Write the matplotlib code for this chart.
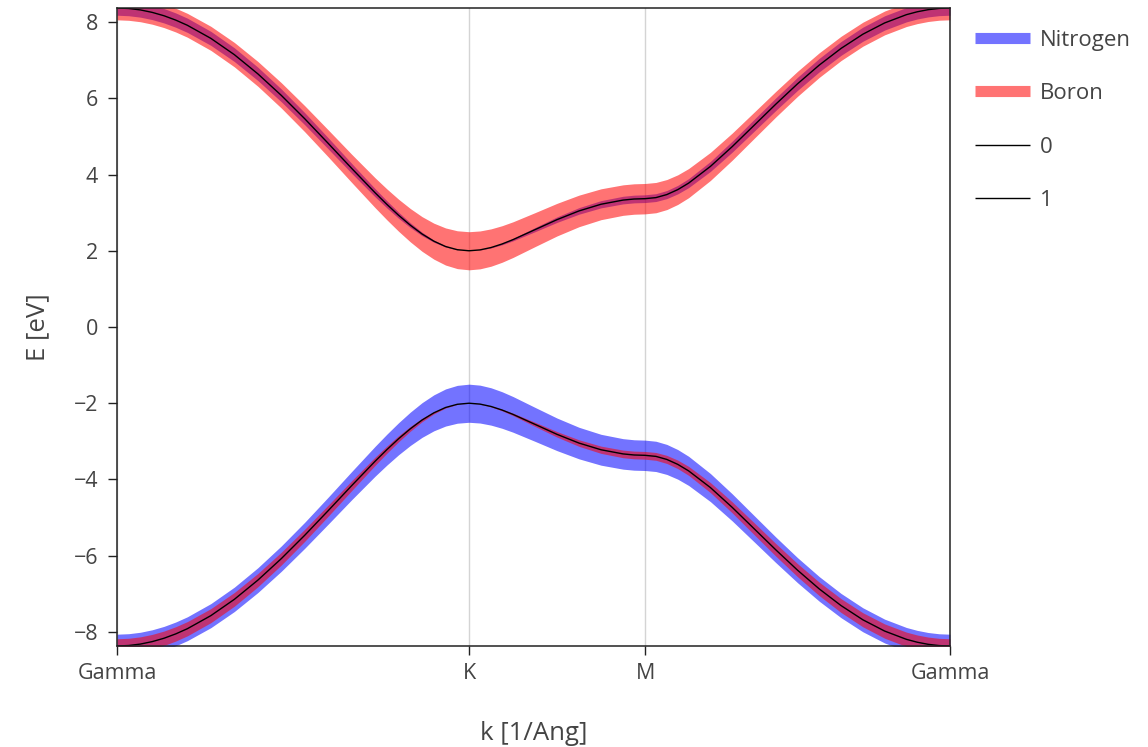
import numpy as np
import matplotlib.pyplot as plt
from matplotlib.lines import Line2D

plt.rcParams['font.family'] = ['Open Sans', 'DejaVu Sans']

# k path (1/Ang) and high-symmetry points
k_path = [0.0, 0.0559, 0.1117, 0.1676, 0.2234, 0.2793, 0.3351, 0.4468, 0.5585, 0.6702,
          0.7819, 0.8936, 1.0053, 1.1170, 1.2287, 1.2846, 1.3404, 1.3963, 1.4521, 1.5080,
          1.5638, 1.6197, 1.6755,
          1.7279, 1.7802, 1.8326, 1.8850, 1.9897, 2.0944, 2.1991, 2.3038, 2.4086, 2.4609,
          2.5133,
          2.5651, 2.6169, 2.6688, 2.7206, 2.8242, 2.9279, 3.0315, 3.1352, 3.2388, 3.3425,
          3.4462, 3.5498, 3.6535, 3.7571, 3.8089, 3.8608, 3.9125, 3.9644]
tick_pos = [0.0, 1.6755, 2.5133, 3.9644]
tick_labels = ['Gamma', 'K', 'M', 'Gamma']

# band energies (eV): band 0 = valence, band 1 = conduction
band_1 = [8.370, 8.357, 8.319, 8.255, 8.167, 8.053, 7.916, 7.573, 7.146, 6.643,
          6.078, 5.464, 4.818, 4.162, 3.521, 3.217, 2.931, 2.670, 2.440, 2.252,
          2.112, 2.028, 2.000,
          2.023, 2.085, 2.178, 2.293, 2.555, 2.817, 3.046, 3.221, 3.330, 3.358,
          3.367,
          3.395, 3.475, 3.604, 3.775, 4.213, 4.732, 5.288, 5.845, 6.380, 6.873,
          7.310, 7.682, 7.978, 8.195, 8.271, 8.326, 8.359, 8.370]
band_0 = [-8.370, -8.357, -8.319, -8.255, -8.167, -8.053, -7.916, -7.573, -7.146, -6.643,
          -6.078, -5.464, -4.818, -4.162, -3.521, -3.217, -2.931, -2.670, -2.440, -2.252,
          -2.112, -2.028, -2.000,
          -2.023, -2.085, -2.178, -2.293, -2.555, -2.817, -3.046, -3.221, -3.330, -3.358,
          -3.367,
          -3.395, -3.475, -3.604, -3.775, -4.213, -4.732, -5.288, -5.845, -6.380, -6.873,
          -7.310, -7.682, -7.978, -8.195, -8.271, -8.326, -8.359, -8.370]

# orbital weights (Nitrogen on valence band, Boron on conduction band)
nitrogen_0 = [0.620, 0.620, 0.620, 0.621, 0.622, 0.624, 0.626, 0.632, 0.640, 0.651,
              0.665, 0.683, 0.708, 0.740, 0.784, 0.811, 0.841, 0.875, 0.910, 0.944,
              0.974, 0.993, 1.000,
              0.994, 0.980, 0.959, 0.936, 0.891, 0.855, 0.828, 0.810, 0.800, 0.798,
              0.797,
              0.795, 0.788, 0.777, 0.765, 0.737, 0.711, 0.689, 0.671, 0.657, 0.646,
              0.637, 0.630, 0.625, 0.622, 0.621, 0.620, 0.620, 0.620]
boron_0 = [0.380, 0.380, 0.380, 0.379, 0.378, 0.376, 0.374, 0.368, 0.360, 0.349,
           0.335, 0.317, 0.292, 0.260, 0.216, 0.189, 0.159, 0.125, 0.090, 0.056,
           0.026, 0.007, 0.000,
           0.006, 0.020, 0.041, 0.064, 0.109, 0.145, 0.172, 0.190, 0.200, 0.202,
           0.203,
           0.205, 0.212, 0.223, 0.235, 0.263, 0.289, 0.311, 0.329, 0.343, 0.354,
           0.363, 0.370, 0.375, 0.378, 0.379, 0.380, 0.380, 0.380]
nitrogen_1 = boron_0
boron_1 = nitrogen_0

scale = 0.5
blue = (0, 0, 1, 0.55)
red = (1, 0, 0, 0.55)
txt = '#444444'

fig = plt.figure(figsize=(11.48, 7.47), dpi=100)
ax = fig.add_axes([0.1019, 0.1352, 0.7256, 0.8541])

k = np.array(k_path)
for e, wn, wb in [(band_0, nitrogen_0, boron_0), (band_1, nitrogen_1, boron_1)]:
    e = np.array(e)
    wn = np.array(wn) * scale
    wb = np.array(wb) * scale
    ax.fill_between(k, e - wn, e + wn, color=blue, lw=0)
    ax.fill_between(k, e - wb, e + wb, color=red, lw=0)
ax.plot(k, band_0, color='black', lw=1)
ax.plot(k, band_1, color='black', lw=1)

ax.set_xlim(0, tick_pos[-1])
ax.set_ylim(-8.37, 8.37)
ax.set_xticks(tick_pos)
ax.set_xticklabels(tick_labels)
ax.set_yticks(range(-8, 9, 2))
ax.xaxis.grid(True, color='#d4d4d4', lw=1)
ax.set_axisbelow(True)
for s in ax.spines.values():
    s.set_color('#222222')
    s.set_linewidth(1.1)
ax.tick_params(axis='both', direction='out', length=6.5, width=1, colors='#222222',
               labelsize=15.5, labelcolor=txt, pad=7)
ax.tick_params(axis='x', pad=6)

fig.text(533.5 / 1148, 1 - 733 / 747, 'k [1/Ang]', fontsize=18.5, color=txt,
         ha='center', va='center')
fig.text(38 / 1148, 1 - 327 / 747, 'E [eV]', fontsize=18.5, color=txt,
         ha='center', va='center', rotation=90)

handles = [Line2D([], [], color=blue, lw=8, solid_capstyle='butt'),
           Line2D([], [], color=red, lw=8, solid_capstyle='butt'),
           Line2D([], [], color='black', lw=1, solid_capstyle='butt'),
           Line2D([], [], color='black', lw=1, solid_capstyle='butt')]
fig.legend(handles, ['Nitrogen', 'Boron', '0', '1'], loc='upper left',
           bbox_to_anchor=(0.832, 0.987), frameon=False, fontsize=16,
           handlelength=2.48, handletextpad=0.45, labelspacing=1.46, labelcolor=txt)

fig.savefig('out.png', dpi=100)
